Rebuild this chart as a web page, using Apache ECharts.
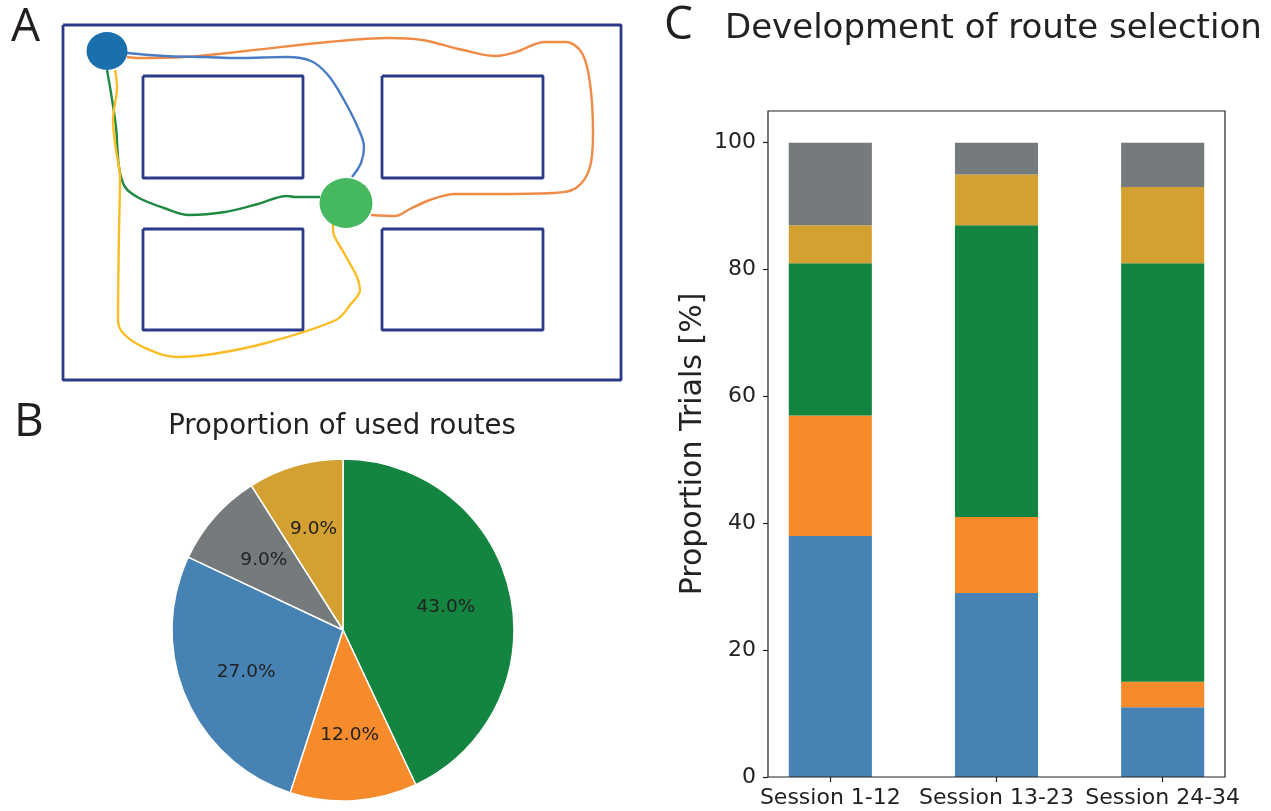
<!DOCTYPE html>
<html>
<head>
<meta charset="utf-8">
<script src="https://cdn.jsdelivr.net/npm/echarts@6/dist/echarts.min.js"></script>
<style>
  html, body { margin: 0; padding: 0; background: #fff; }
  #chart { width: 1271px; height: 811px; }
</style>
</head>
<body>
<div id="chart"></div>
<script>
// ---------- Panel C data ----------
const sessions = ['Session 1-12', 'Session 13-23', 'Session 24-34'];
const blueRoute = [38, 29, 11];
const orangeRoute = [19, 12, 4];
const greenRoute = [24, 46, 66];
const goldRoute = [6, 8, 12];
const grayRoute = [13, 5, 7];
const yTicks = [0, 20, 40, 60, 80, 100];

// ---------- Panel B data ----------
const pieNames = ['green', 'orange', 'blue', 'gray', 'gold'];
const pieShares = [43, 12, 27, 9, 9];

// ---------- Panel A (maze sketch, in sketch units) ----------
const outerWall = [[63, 25], [621, 25], [621, 380], [63, 380], [63, 25]];
const blockTL = [[143, 76], [303, 76], [303, 178], [143, 178], [143, 76]];
const blockTR = [[382, 76], [543, 76], [543, 178], [382, 178], [382, 76]];
const blockBL = [[143, 229], [303, 229], [303, 330], [143, 330], [143, 229]];
const blockBR = [[382, 229], [543, 229], [543, 330], [382, 330], [382, 229]];
const pathOrange = [[127, 57], [139, 58], [184, 57], [246, 51], [328, 42], [389, 38], [422, 40], [463, 50], [496, 56], [516, 52], [545, 42], [566, 42], [582, 53], [590, 83], [593, 133], [590, 167], [576, 188], [553, 193], [492, 194], [455, 194], [430, 200], [410, 209], [395, 216], [371, 215]];
const pathBlue = [[127, 53], [164, 56], [205, 57], [238, 58], [287, 57], [311, 61], [328, 75], [344, 100], [359, 130], [364, 147], [361, 163], [352, 177]];
const pathGreen = [[107, 70], [111, 93], [116, 127], [119, 167], [125, 187], [139, 198], [164, 208], [189, 215], [225, 212], [258, 204], [287, 196], [295, 197], [320, 197]];
const pathYellow = [[115, 70], [117, 87], [113, 120], [116, 150], [120, 177], [119, 233], [118, 320], [123, 333], [143, 347], [176, 357], [213, 354], [266, 343], [336, 320], [350, 305], [360, 290], [357, 277], [344, 253], [333, 230], [333, 224]];
const startNode = [107, 51];
const goalNode = [346, 203];

const barColors = { blue: '#4682b4', orange: '#f68b2c', green: '#138541', gold: '#d4a032', gray: '#757b7c' };
const font = 'DejaVu Sans';
const letterFont = 'Open Sans';
const ink = '#222222';

const chart = echarts.init(document.getElementById('chart'), null, { renderer: 'canvas' });

function wall(data) {
  return { type: 'line', xAxisIndex: 0, yAxisIndex: 0, data: data, symbol: 'none', silent: true,
    lineStyle: { color: '#2b3a89', width: 2.8 }, z: 2 };
}
function route(data, color) {
  return { type: 'line', xAxisIndex: 0, yAxisIndex: 0, data: data, symbol: 'none', smooth: 0.35, silent: true,
    lineStyle: { color: color, width: 2.4 }, z: 3 };
}
function stackBar(name, vals, color) {
  return { type: 'bar', name: name, xAxisIndex: 2, yAxisIndex: 2, stack: 'routes', barWidth: '50%',
    data: vals, itemStyle: { color: color }, z: 2, emphasis: { disabled: true } };
}

// frame of panel C spans x = -0.375 .. 2.375 category units
const frameLeft = 768, frameWidth = 457, frameTop = 111, frameHeight = 666;
const unit = frameWidth / 2.75;

const option = {
  animation: false,
  backgroundColor: '#ffffff',
  title: [
    { text: 'A', left: 11, top: 5, padding: 0, textStyle: { fontFamily: letterFont, fontSize: 46, fontWeight: 'normal', color: '#231f20', lineHeight: 46 } },
    { text: 'B', left: 14, top: 400, padding: 0, textStyle: { fontFamily: letterFont, fontSize: 46, fontWeight: 'normal', color: '#231f20', lineHeight: 46 } },
    { text: 'C', left: 664, top: 3, padding: 0, textStyle: { fontFamily: letterFont, fontSize: 46, fontWeight: 'normal', color: '#231f20', lineHeight: 46 } },
    { text: 'Proportion of used routes', left: 342, top: 413, textAlign: 'center', padding: 0, textStyle: { fontFamily: font, fontSize: 27.5, fontWeight: 'normal', color: ink, lineHeight: 27.5 } },
    { text: 'Development of route selection', left: 725, top: 12.5, padding: 0, textStyle: { fontFamily: font, fontSize: 34, fontWeight: 'normal', color: ink, lineHeight: 34 } }
  ],
  grid: [
    { left: 0, top: 0, width: 640, height: 400, show: false },
    { left: frameLeft, top: frameTop, width: frameWidth, height: frameHeight, show: true, borderColor: '#222', borderWidth: 1.2, backgroundColor: 'transparent', z: 3 },
    { left: frameLeft - 0.125 * unit, top: frameTop, width: 3 * unit, height: frameHeight, show: false }
  ],
  xAxis: [
    { gridIndex: 0, type: 'value', min: 0, max: 640, show: false },
    { gridIndex: 1, type: 'value', min: -0.375, max: 2.375, show: false, axisLine: { onZero: false } },
    { gridIndex: 2, type: 'category', data: sessions, boundaryGap: true, position: 'bottom',
      axisLine: { show: false, onZero: false },
      axisTick: { show: true, alignWithLabel: true, length: 5, lineStyle: { color: '#222', width: 1.2 } },
      axisLabel: { show: true, interval: 0, margin: 10, fontFamily: font, fontSize: 22, color: ink },
      axisPointer: { show: false },
      splitLine: { show: false } }
  ],
  yAxis: [
    { gridIndex: 0, type: 'value', min: 0, max: 400, inverse: true, show: false },
    { gridIndex: 1, type: 'value', min: 0, max: 105, position: 'left',
      name: 'Proportion Trials [%]', nameLocation: 'middle', nameGap: 60, nameRotate: 90,
      nameTextStyle: { fontFamily: font, fontSize: 30, color: ink },
      axisLine: { show: false, onZero: false },
      axisTick: { show: true, length: 5, customValues: yTicks, lineStyle: { color: '#222', width: 1.2 } },
      axisLabel: { show: true, customValues: yTicks, margin: 12, fontFamily: font, fontSize: 22, color: ink },
      splitLine: { show: false } },
    { gridIndex: 2, type: 'value', min: 0, max: 105, show: false, axisLine: { onZero: false } }
  ],
  series: [
    wall(outerWall), wall(blockTL), wall(blockTR), wall(blockBL), wall(blockBR),
    route(pathOrange, '#ef8a47'),
    route(pathBlue, '#4a7cc6'),
    route(pathGreen, '#1f8a43'),
    route(pathYellow, '#fbbd26'),
    { type: 'scatter', xAxisIndex: 0, yAxisIndex: 0, data: [startNode], symbol: 'circle', symbolSize: [41, 38], silent: true,
      itemStyle: { color: '#1b6fad', opacity: 1 }, z: 5 },
    { type: 'scatter', xAxisIndex: 0, yAxisIndex: 0, data: [goalNode], symbol: 'circle', symbolSize: [53, 50], silent: true,
      itemStyle: { color: '#45b860', opacity: 1 }, z: 5 },

    stackBar('blue', blueRoute, barColors.blue),
    stackBar('orange', orangeRoute, barColors.orange),
    stackBar('green', greenRoute, barColors.green),
    stackBar('gold', goldRoute, barColors.gold),
    stackBar('gray', grayRoute, barColors.gray),

    { type: 'pie', center: [343, 630], radius: 171, startAngle: 90, clockwise: true, silent: true,
      avoidLabelOverlap: false,
      data: pieShares.map((v, i) => ({ name: pieNames[i], value: v, itemStyle: { color: barColors[pieNames[i]] } })),
      itemStyle: { borderColor: '#ffffff', borderWidth: 1.5 },
      label: { show: false }, labelLine: { show: false } },
    { type: 'pie', center: [343, 630], radius: [0, 205], startAngle: 90, clockwise: true, silent: true,
      avoidLabelOverlap: false, z: 3,
      data: pieShares.map((v, i) => ({ name: pieNames[i], value: v })),
      itemStyle: { color: 'rgba(0,0,0,0)', borderWidth: 0 },
      label: { show: true, position: 'inside', formatter: p => p.value.toFixed(1) + '%',
        fontFamily: font, fontSize: 18.5, color: ink },
      labelLine: { show: false } }
  ]
};
chart.setOption(option);
</script>
</body>
</html>
